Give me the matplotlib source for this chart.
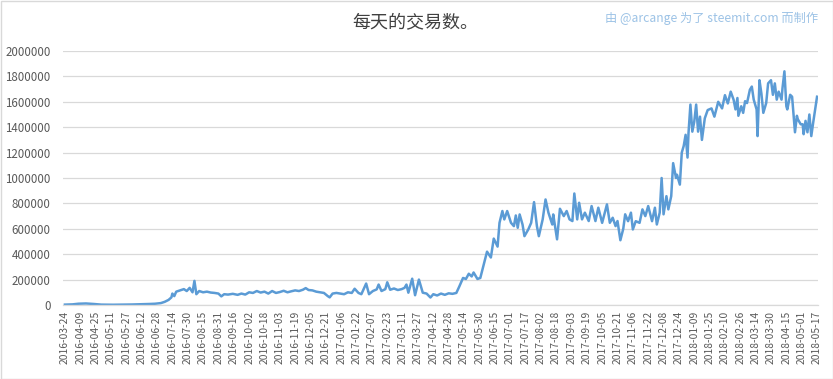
import matplotlib
matplotlib.use("Agg")
import matplotlib.pyplot as plt
from matplotlib.patches import Rectangle

plt.rcParams['font.family'] = ['Noto Sans CJK SC', 'DejaVu Sans']

title = "每天的交易数。"
credit = "由 @arcange 为了 steemit.com 而制作"

# days since 2016-03-24 (first category) and daily transaction counts
days = [0, 8, 14, 22, 30, 38, 50, 60, 70, 80, 88, 94, 100, 104, 108, 111, 112, 114, 116,
        120, 124, 127, 130, 133, 135, 137, 140, 144, 148, 152, 156, 160, 163, 166, 170,
        175, 180, 184, 188, 192, 196, 200, 204, 208, 212, 216, 220, 224, 228, 232, 236,
        240, 244, 248, 251, 254, 258, 262, 266, 270, 274, 276, 279, 283, 287, 291, 295,
        299, 302, 306, 309, 314, 317, 321, 325, 327, 330, 334, 336, 339, 343, 347, 351,
        354, 356, 358, 362, 365, 369, 373, 377, 381, 384, 388, 392, 396, 400, 404, 408,
        411, 415, 418, 421, 424, 426, 430, 433, 436, 440, 444, 447, 451, 453, 456, 458,
        461, 465, 468, 470, 472, 474, 477, 479, 483, 486, 489, 492, 494, 498, 501, 504,
        508, 509, 513, 516, 520, 523, 526, 529, 531, 534, 536, 539, 542, 546, 549, 553,
        556, 560, 565, 568, 571, 574, 576, 579, 582, 584, 587, 590, 592, 595, 599, 602,
        605, 608, 612, 615, 617, 620, 622, 624, 627, 629, 632, 634, 637, 638, 641, 643,
        645, 647, 649, 650, 652, 654, 656, 658, 660, 662, 664, 667, 670, 674, 677, 681,
        685, 688, 691, 694, 697, 699, 701, 702, 705, 707, 709, 711, 714, 716, 718, 721,
        722, 724, 726, 728, 731, 733, 736, 738, 740, 742, 744, 747, 748, 750, 752, 753,
        756, 758, 761, 763, 764, 767, 769, 770, 772, 774, 776, 778, 780, 784]
transactions = [3000, 5000, 10000, 12000, 8000, 3000, 2000, 3000, 4000, 6000, 8000, 10000,
        15000, 25000, 40000, 60000, 90000, 70000, 105000,
        115000, 125000, 110000, 135000, 100000, 190000, 85000, 110000, 100000, 105000,
        98000, 95000, 90000, 68000, 85000, 82000,
        88000, 80000, 90000, 82000, 100000, 95000, 110000, 98000, 105000, 90000, 110000,
        95000, 102000, 112000, 100000, 108000,
        115000, 110000, 120000, 133000, 118000, 115000, 105000, 100000, 95000, 70000,
        60000, 90000, 95000, 90000, 85000, 100000,
        95000, 128000, 95000, 85000, 169000, 85000, 110000, 123000, 161000, 110000,
        125000, 179000, 120000, 130000, 118000, 125000,
        135000, 161000, 97000, 207000, 77000, 200000, 97000, 90000, 59000, 85000, 75000,
        90000, 80000, 92000, 88000, 95000,
        144000, 213000, 205000, 246000, 225000, 256000, 205000, 213000, 302000, 420000,
        374000, 523000, 460000, 647000, 740000, 674000,
        740000, 647000, 621000, 705000, 608000, 713000, 634000, 542000, 595000, 647000,
        810000, 621000, 542000, 674000, 831000, 727000,
        634000, 713000, 517000, 758000, 700000, 740000, 674000, 661000, 878000, 674000,
        805000, 674000, 727000, 661000, 779000, 661000,
        766000, 647000, 792000, 647000, 687000, 621000, 661000, 510000, 600000, 714000,
        660000, 727000, 595000, 660000, 647000, 753000,
        700000, 779000, 660000, 766000, 634000, 727000, 1000000, 714000, 857000, 753000,
        857000, 1117000, 1000000, 1026000, 948000, 1200000,
        1252000, 1340000, 1161000, 1352000, 1578000, 1365000, 1443000, 1578000, 1365000,
        1483000, 1300000, 1470000, 1535000, 1548000, 1483000, 1600000,
        1548000, 1652000, 1587000, 1680000, 1617000, 1540000, 1630000, 1490000, 1565000,
        1513000, 1605000, 1590000, 1695000, 1720000, 1617000, 1540000,
        1330000, 1770000, 1665000, 1513000, 1590000, 1745000, 1770000, 1655000, 1745000,
        1617000, 1680000, 1617000, 1708000, 1840000, 1565000, 1540000,
        1655000, 1640000, 1360000, 1490000, 1462000, 1423000, 1423000, 1345000, 1450000,
        1360000, 1500000, 1330000, 1437000, 1640000]

tick_labels = ["2016-03-24", "2016-04-09", "2016-04-25", "2016-05-11", "2016-05-27",
               "2016-06-12", "2016-06-28", "2016-07-14", "2016-07-30", "2016-08-15",
               "2016-08-31", "2016-09-16", "2016-10-02", "2016-10-18", "2016-11-03",
               "2016-11-19", "2016-12-05", "2016-12-21", "2017-01-06", "2017-01-22",
               "2017-02-07", "2017-02-23", "2017-03-11", "2017-03-27", "2017-04-12",
               "2017-04-28", "2017-05-14", "2017-05-30", "2017-06-15", "2017-07-01",
               "2017-07-17", "2017-08-02", "2017-08-18", "2017-09-03", "2017-09-19",
               "2017-10-05", "2017-10-21", "2017-11-06", "2017-11-22", "2017-12-08",
               "2017-12-24", "2018-01-09", "2018-01-25", "2018-02-10", "2018-02-26",
               "2018-03-14", "2018-03-30", "2018-04-15", "2018-05-01", "2018-05-17"]
tick_step = 16
y_ticks = [0, 200000, 400000, 600000, 800000, 1000000, 1200000, 1400000, 1600000,
           1800000, 2000000]

fig = plt.figure(figsize=(8.33, 3.79), dpi=100)
ax = fig.add_axes([63 / 833, 1 - 305 / 379, (818 - 63) / 833, (305 - 51) / 379])

ax.plot(days, transactions, color='#5b9bd5', lw=1.8, solid_joinstyle='round')

n_days = (len(tick_labels) - 1) * tick_step
ax.set_xlim(-2, n_days + 1)
ax.set_ylim(0, 2000000)
ax.set_yticks(y_ticks)
ax.set_yticklabels([str(v) for v in y_ticks], fontsize=8.3, color='#595959')
ax.set_xticks([i * tick_step for i in range(len(tick_labels))])
ax.set_xticklabels(tick_labels, rotation=90, fontsize=7.4, color='#595959')
ax.tick_params(axis='y', length=0, pad=9)
ax.tick_params(axis='x', length=0, pad=4)

ax.grid(axis='y', color='#d9d9d9', lw=0.9)
ax.set_axisbelow(True)
for s in ['top', 'right', 'left']:
    ax.spines[s].set_visible(False)
ax.spines['bottom'].set_color('#d9d9d9')
ax.spines['bottom'].set_linewidth(0.9)

fig.text(415 / 833, 1 - 22 / 379, title, ha='center', va='center', fontsize=13,
         color='#404040')
fig.text(818 / 833, 1 - 18 / 379, credit, ha='right', va='center', fontsize=8.8,
         color='#9dc3e6')

fig.patches.append(Rectangle((0.5 / 833, 0.5 / 379), 832 / 833, 378 / 379,
                             transform=fig.transFigure, fill=False,
                             edgecolor='#d9d9d9', lw=1))

fig.savefig('out.png', dpi=100)
